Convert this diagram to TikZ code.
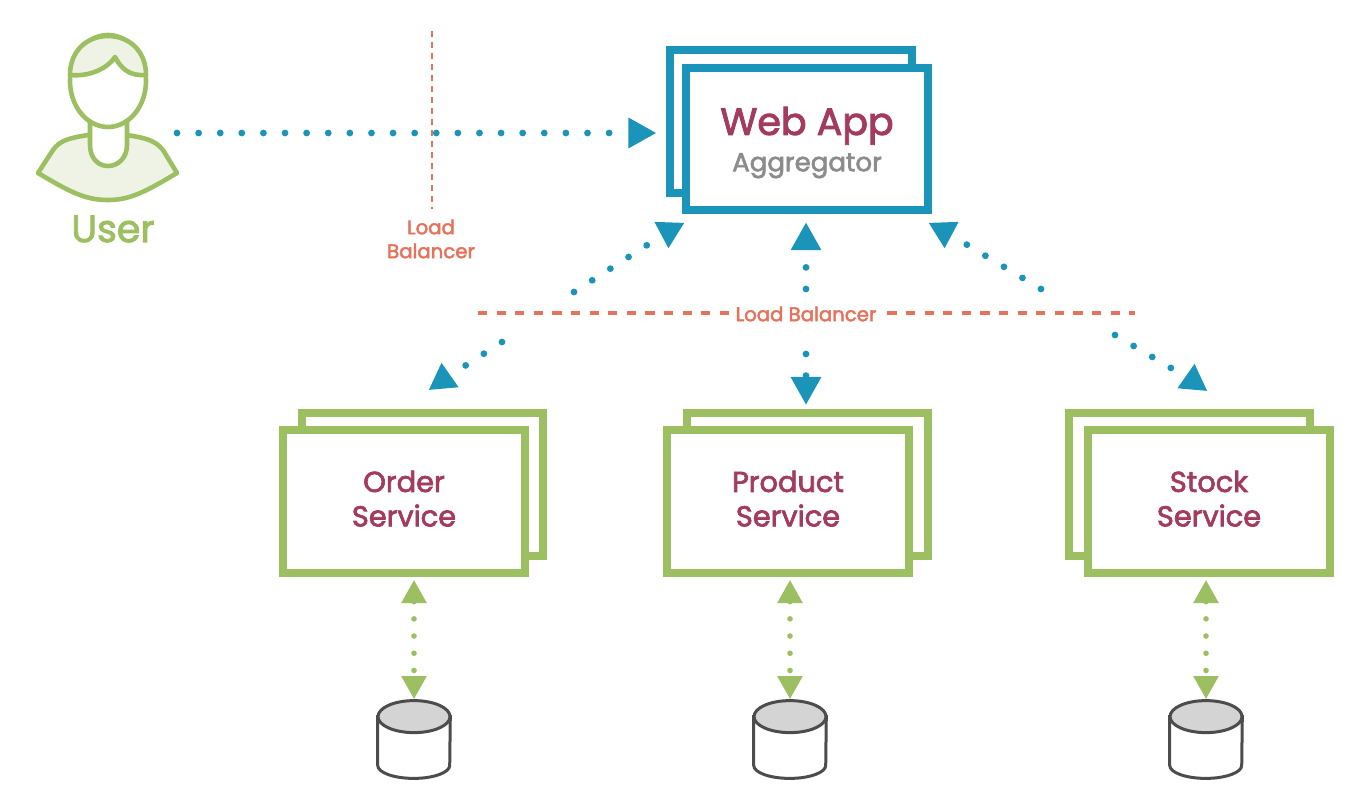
\documentclass[tikz,border=0pt]{standalone}
\usepackage{fontspec}
\setmainfont{Poppins}
\newfontfamily\medfont[FakeBold=2.4]{Poppins}
\usetikzlibrary{arrows.meta, positioning, calc, shapes.geometric}
\definecolor{bluec}{HTML}{1A94B8}
\definecolor{greenc}{HTML}{9CBF62}
\definecolor{redc}{HTML}{E5735C}
\definecolor{winec}{HTML}{A33B5C}
\definecolor{palec}{HTML}{EEF3E6}
\tikzset{
  box/.style    = {draw, fill=white, inner sep=0pt, align=center, minimum width=6.025cm},
  webbox/.style = {box, draw=bluec, line width=0.2cm, minimum height=3.56cm},
  svcbox/.style = {box, draw=greenc, line width=0.2cm, minimum height=3.575cm,
                   text=winec, text depth=0.15cm, font=\fontsize{20.5}{24.5}\selectfont\medfont},
  db/.style     = {inner sep=0pt, minimum width=1.8cm, minimum height=1.93cm},
  dbline/.style = {draw=black!70, line width=0.075cm},
  bflow/.style  = {bluec, line width=0.17cm, line cap=round, dash pattern=on 0pt off 0.54cm},
  gflow/.style  = {greenc, line width=0.14cm, line cap=round, dash pattern=on 0pt off 0.43cm,
                   {Triangle[length=0.58cm, width=0.6cm, line cap=butt]}-{Triangle[length=0.58cm, width=0.6cm, line cap=butt]}},
  btip/.style   = {-{Triangle[length=0.7cm, width=0.72cm]}},
  head/.style   = {regular polygon, regular polygon sides=3, fill=bluec, inner sep=0pt, minimum size=0.86cm},
  lbl/.style    = {text=redc, inner sep=1.5pt, align=center, font=\fontsize{14}{17}\selectfont\medfont},
  lbline/.style = {redc, line width=0.08cm},
  usr/.style    = {greenc, line width=0.115cm, line join=round},
}
\begin{document}
\begin{tikzpicture}[x=0.025cm, y=-0.025cm]
    \useasboundingbox (0,0) rectangle (1352,801);

    % user
    \draw[usr, fill=palec]
      (88,135) .. controls (70,138) and (60,140) .. (53,150) -- (38,173)
      .. controls (70,192) and (85,200) .. (108,200) .. controls (130,200) and (145,192) .. (177,173)
      -- (163,150) .. controls (155,140) and (145,138) .. (127,135) -- cycle;
    \draw[usr, fill=white]
      (90,120) -- (90,145) .. controls (90,158) and (98,166) .. (108,166)
      .. controls (118,166) and (127,158) .. (127,145) -- (127,120) -- cycle;
    \draw[usr, fill=white] (108,81) ellipse (38 and 46);
    \draw[usr, fill=palec]
      (70,75) .. controls (70,50) and (88,36) .. (108,36) .. controls (128,36) and (146,50) .. (146,75)
      .. controls (130,76) and (122,70) .. (115,57) .. controls (108,68) and (90,77) .. (70,75) -- cycle;
    \node[text=greenc, inner sep=0pt, font=\fontsize{27}{30}\selectfont\medfont] (user) at (113,229) {User};

    % web app
    \node[webbox] (wb) at (791,121.5) {};
    \node[webbox, text depth=0pt] (wf) at (807,139) {{\color{winec}\fontsize{27}{34}\selectfont\medfont Web App}\\[5pt]
      {\color{black!45}\fontsize{18.5}{22}\selectfont\medfont Aggregator}};

    % services
    \node[svcbox] (ob) at (422.5,484.5) {};
    \node[svcbox] (of) at (404,501.5) {Order\\Service};
    \node[svcbox] (pb) at (807.5,484.5) {};
    \node[svcbox] (pf) at (788,501.5) {Product\\Service};
    \node[svcbox] (sb) at (1189.5,484.5) {};
    \node[svcbox] (sf) at (1209,501.5) {Stock\\Service};

    % data stores
    \node[db] (odb) at (414,739.5) {};
    \node[db] (pdb) at (790,739.5) {};
    \node[db] (sdb) at (1206,739.5) {};
    \foreach \n in {odb,pdb,sdb} {
      \draw[dbline, fill=white] ($(\n.north west)+(0,16)$) -- ($(\n.south west)+(0,-13)$)
        arc (180:0:36 and 13) -- ($(\n.north east)+(0,16)$) -- cycle;
      \draw[dbline, fill=black!17] ($(\n.north)+(0,16)$) ellipse (36 and 16);
    }

    \draw[gflow, shorten <=2pt, shorten >=1pt] (odb.north |- of.south) -- (odb.north);
    \draw[gflow, shorten <=2pt, shorten >=1pt] (pdb.north |- pf.south) -- (pdb.north);
    \draw[gflow, shorten <=2pt, shorten >=1pt] (sdb.north |- sf.south) -- (sdb.north);

    % load balancers
    \node[lbl] (lbv) at (431,239) {Load\\Balancer};
    \coordinate (lbvt) at (432,31);
    \draw[lbline, line width=0.07cm, dash pattern=on 0.16cm off 0.115cm, shorten >=0.2cm] (lbvt) -- (lbvt |- lbv.north);
    \coordinate (lbhl) at (478,313);
    \coordinate (lbhr) at (1135,313);
    \draw[lbline, dash pattern=on 0.23cm off 0.235cm] (lbhl) -- (lbhr);
    \node[lbl, fill=white] (lbh) at (806,314) {Load Balancer};

    % requests
    \coordinate (ustart) at (177,133);
    \draw[bflow, btip, shorten >=0.25cm] (ustart) -- (ustart -| wb.west);

    \node[head, rotate=178] (h1) at (669,231) {};
    \node[head, rotate=182] (h2) at (944,231) {};
    \node[head, rotate=5]   (h3) at (443,380) {};
    \node[head, rotate=-5]  (h4) at (1193,381) {};

    \coordinate (c1) at (574,292);
    \coordinate (c2) at (502,342);
    \coordinate (c3) at (1041,289);
    \coordinate (c4) at (1115,335);
    \coordinate (c5) at (806,289);
    \coordinate (c6) at (806,354);

    \draw[bflow] (c1) -- (h1);
    \draw[bflow] (c2) -- (h3);
    \draw[bflow] (c3) -- (h2);
    \draw[bflow] (c4) -- (h4);
    \draw[bflow, btip, shorten >=0.2cm] (c5) -- (c5 |- wf.south);
    \draw[bflow, btip, shorten >=0.1cm] (c6) -- (c6 |- pb.north);
\end{tikzpicture}
\end{document}
